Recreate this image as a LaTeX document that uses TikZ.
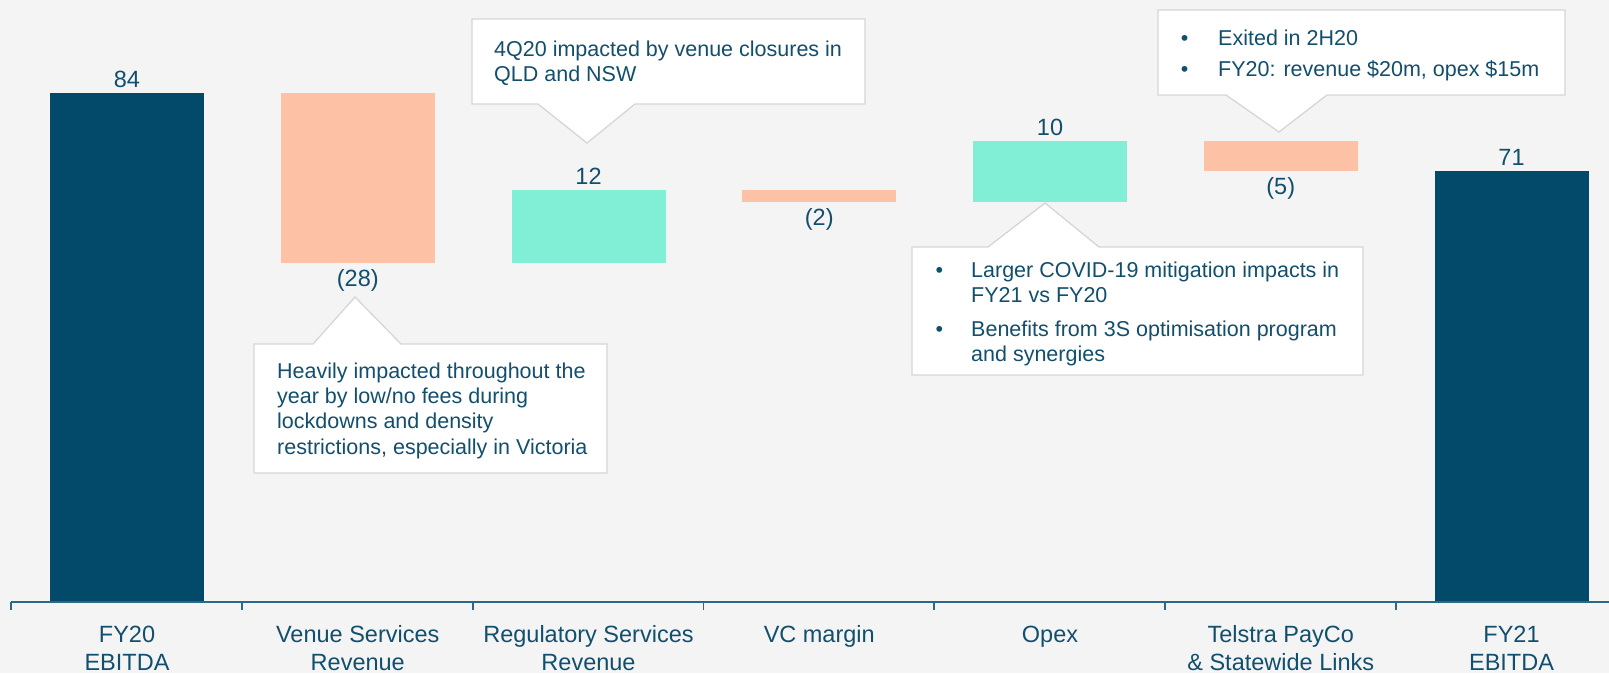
\documentclass[tikz,border=0pt]{standalone}
\usepackage{fontspec}
\setmainfont{Liberation Sans}
\definecolor{bgc}{HTML}{F4F4F4}
\definecolor{navy}{HTML}{02496A}
\definecolor{salmon}{HTML}{FDC2A6}
\definecolor{mint}{HTML}{80EFD5}
\definecolor{txt}{HTML}{124F6E}
\definecolor{axisc}{HTML}{2A6A88}
\definecolor{callb}{HTML}{D6D6D6}
\tikzset{
  totalbar/.style={fill=navy},
  negbar/.style={fill=salmon},
  posbar/.style={fill=mint},
  val/.style={anchor=base, text=txt, inner sep=0pt, font=\fontsize{23.5}{28}\selectfont},
  cat/.style={anchor=base, text=txt, inner sep=0pt, font=\fontsize{23.5}{28}\selectfont},
  ctext/.style={anchor=base west, text=txt, inner sep=0pt, font=\fontsize{21.5}{25}\selectfont},
  cbullet/.style={anchor=base, text=txt, inner sep=0pt, font=\fontsize{21.5}{25}\selectfont},
  callout/.style={fill=white, draw=callb, line width=1.3pt, line join=miter},
  axisline/.style={draw=axisc, line width=1.7pt},
}
\begin{document}
\begin{tikzpicture}[x=1pt, y=-1pt]
\fill[bgc] (0,0) rectangle (1609,673);
\useasboundingbox (0,0) rectangle (1609,673);

% bars
\fill[totalbar] (50,93) rectangle (204,602);
\fill[negbar] (280.75,93) rectangle (434.75,263);
\fill[posbar] (511.5,189.5) rectangle (665.5,263);
\fill[negbar] (742.25,189.5) rectangle (896.25,201.5);
\fill[posbar] (973,140.5) rectangle (1127,201.5);
\fill[negbar] (1203.75,140.5) rectangle (1357.75,171);
\fill[totalbar] (1434.5,171) rectangle (1588.5,602);

% axis
\draw[axisline] (11.3,602) -- (1609,602);
\foreach \tx in {11.3,242,472.8,703.5,934.3,1165,1395.8}
  \draw[axisline] (\tx,602) -- (\tx,609.5);

% value labels
\node[val] (v1) at (127,87.5) {84};
\node[val] (v2) at (357.75,286.5) {(28)};
\node[val] (v3) at (588.5,184) {12};
\node[val] (v4) at (819.25,225) {(2)};
\node[val] (v5) at (1050,135) {10};
\node[val] (v6) at (1280.75,194.5) {(5)};
\node[val] (v7) at (1511.5,165.5) {71};

% category labels
\node[cat] (c1a) at (127,642.7) {FY20};
\node[cat] (c1b) at (127,670.7) {EBITDA};
\node[cat] (c2a) at (357.75,642.7) {Venue Services};
\node[cat] (c2b) at (357.75,670.7) {Revenue};
\node[cat] (c3a) at (588.5,642.7) {Regulatory Services};
\node[cat] (c3b) at (588.5,670.7) {Revenue};
\node[cat] (c4a) at (819.25,642.7) {VC margin};
\node[cat] (c5a) at (1050,642.7) {Opex};
\node[cat] (c6a) at (1280.75,642.7) {Telstra PayCo};
\node[cat] (c6b) at (1280.75,670.7) {\& Statewide Links};
\node[cat] (c7a) at (1511.5,642.7) {FY21};
\node[cat] (c7b) at (1511.5,670.7) {EBITDA};

% callout A (Regulatory)
\draw[callout] (472,19) -- (865,19) -- (865,104) -- (635,104) -- (587,143) -- (538,104) -- (472,104) -- cycle;
\node[ctext] (a1) at (494,56) {4Q20 impacted by venue closures in};
\node[ctext] (a2) at (494,81.5) {QLD and NSW};

% callout B (Venue)
\draw[callout] (254,344) -- (313,344) -- (355,297) -- (401,344) -- (607,344) -- (607,473) -- (254,473) -- cycle;
\node[ctext] (b1) at (277,378.3) {Heavily impacted throughout the};
\node[ctext] (b2) at (277,403.5) {year by low/no fees during};
\node[ctext] (b3) at (277,428.7) {lockdowns and density};
\node[ctext] (b4) at (277,454) {restrictions, especially in Victoria};

% callout C (Opex)
\draw[callout] (912,247) -- (988,247) -- (1045,203) -- (1099,247) -- (1363,247) -- (1363,375) -- (912,375) -- cycle;
\node[cbullet] (cb1) at (939.3,277.5) {•};
\node[ctext] (cc1) at (971,277.5) {Larger COVID-19 mitigation impacts in};
\node[ctext] (cc2) at (971,302) {FY21 vs FY20};
\node[cbullet] (cb2) at (939.3,336) {•};
\node[ctext] (cc3) at (971,336) {Benefits from 3S optimisation program};
\node[ctext] (cc4) at (971,361) {and synergies};

% callout D (Telstra)
\draw[callout] (1158,10) -- (1565,10) -- (1565,95) -- (1327,95) -- (1279,132) -- (1226,95) -- (1158,95) -- cycle;
\node[cbullet] (db1) at (1184.6,45) {•};
\node[ctext] (dd1) at (1218,45) {Exited in 2H20};
\node[cbullet] (db2) at (1184.6,76.7) {•};
\node[ctext] (dd2) at (1218,76.7) {FY20: revenue \$20m, opex \$15m};
\end{tikzpicture}
\end{document}
